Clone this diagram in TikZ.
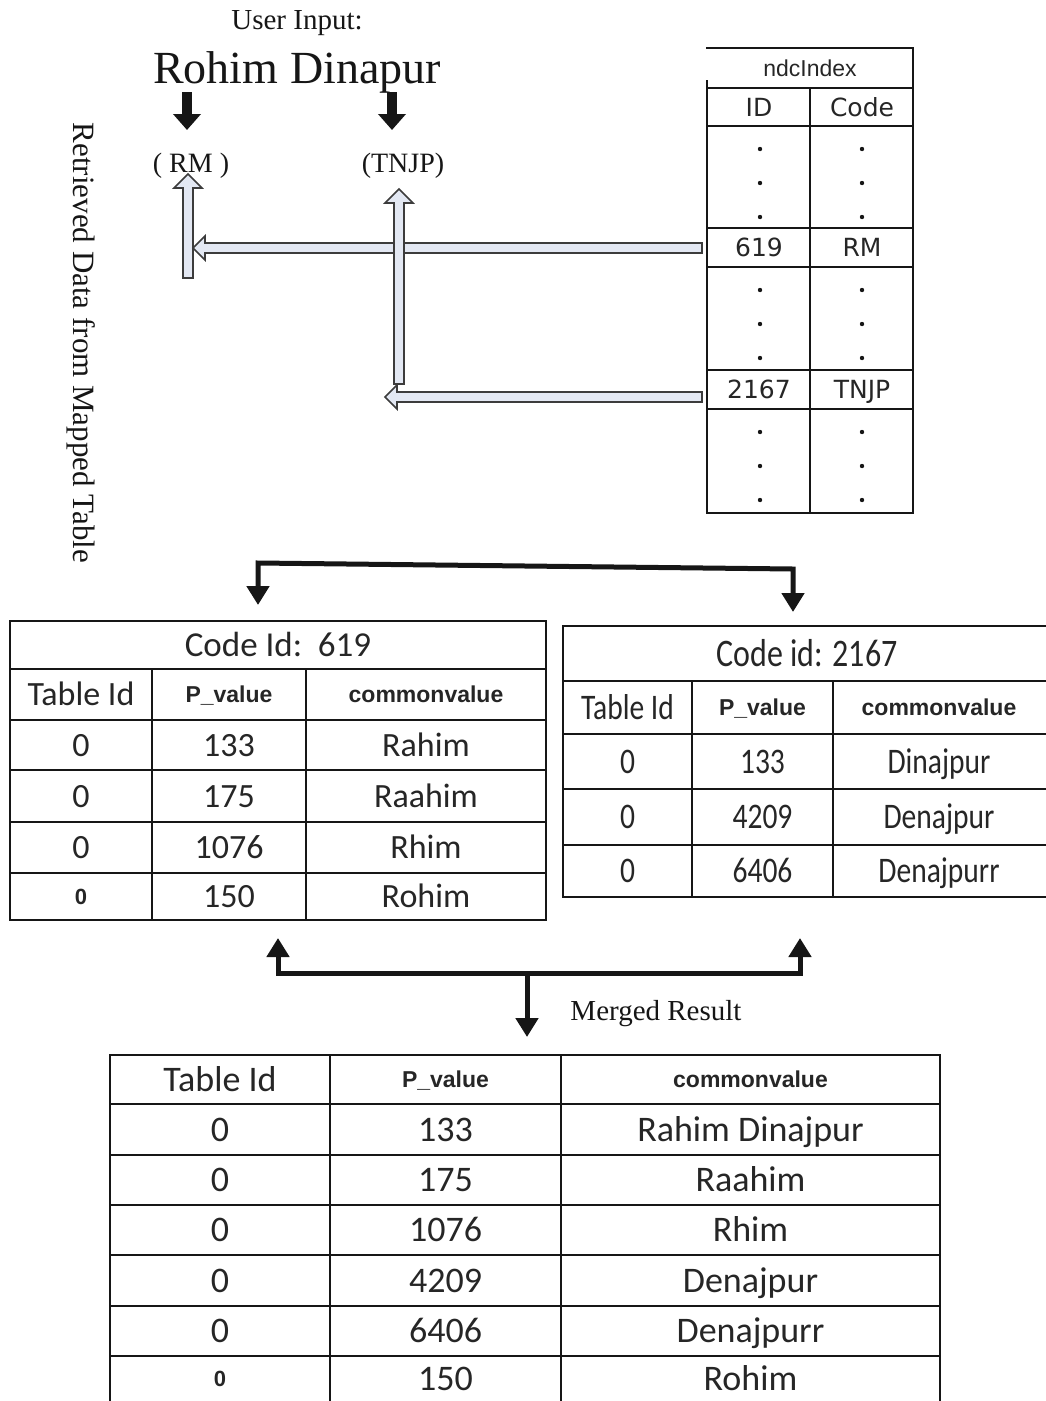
\documentclass[tikz,border=0pt]{standalone}
\usepackage{fontspec}
\setmainfont{Liberation Serif}
\newfontfamily\fcal{Carlito}
\newfontfamily\fcalnarrow[FakeStretch=0.82]{Carlito}
\newfontfamily\farial{Liberation Sans}
\newfontfamily\fdeja{DejaVu Sans}
\usetikzlibrary{arrows.meta,calc}
\definecolor{ink}{HTML}{161616}
\definecolor{celltext}{HTML}{262626}
\definecolor{blkfill}{HTML}{E3E8F3}
\definecolor{blkedge}{HTML}{3C3C3C}
\newcommand{\pxfont}[1]{\fontsize{#1}{#1}\selectfont}
% hollow block arrows: #1 tail, #2 tip
\newcommand{\vblk}[2]{\filldraw[blockarrow] ($(#1)+(-5,0)$) -- ($(#2)+(-5,14)$) -- ($(#2)+(-14,14)$) -- (#2) -- ($(#2)+(14,14)$) -- ($(#2)+(5,14)$) -- ($(#1)+(5,0)$) -- cycle;}
\newcommand{\hblk}[2]{\filldraw[blockarrow] ($(#1)+(0,-5)$) -- ($(#2)+(12,-5)$) -- ($(#2)+(12,-12)$) -- (#2) -- ($(#2)+(12,12)$) -- ($(#2)+(12,5)$) -- ($(#1)+(0,5)$) -- cycle;}
\tikzset{
  tabrule/.style={draw=ink,line width=2.4pt,line cap=rect},
  blockarrow/.style={fill=blkfill,draw=blkedge,line width=1.6pt,line join=miter},
  fatarrow/.style={draw=ink,line width=10pt,-{Triangle[width=27pt,length=16pt]}},
  bracket/.style={draw=ink,line width=5pt,line join=miter,>={Triangle[width=22pt,length=19pt]}},
  serifnote/.style={inner sep=0pt,text=ink,anchor=base},
  cell/.style={inner sep=0pt,text=celltext,text depth=0pt},
  calA/.style={cell,font=\fcal\pxfont{34},text height=22pt},
  calB/.style={cell,font=\fcalnarrow\pxfont{36},text height=23pt},
  calM/.style={cell,font=\fcal\pxfont{36},text height=23pt},
  hdr/.style={cell,font=\farial\bfseries\pxfont{23},text height=16.5pt},
  zsmall/.style={cell,font=\farial\bfseries\pxfont{22},text height=15.8pt},
  ndccell/.style={cell,font=\fdeja\pxfont{25},text height=18.2pt},
  ndctitle/.style={cell,font=\farial\pxfont{23},text height=16.5pt}
}
\begin{document}
\begin{tikzpicture}[x=1pt,y=-1pt]
  \useasboundingbox (0,0) rectangle (1045,1401);

  % user input and codes
  \node[serifnote,font=\pxfont{29}] (userlbl) at (297,29.5) {User Input:};
  \node[serifnote,font=\pxfont{46}] (userword) at (297,83) {Rohim Dinapur};
  \node[serifnote,font=\pxfont{28}] (rmcode) at (191,172) {( RM )};
  \node[serifnote,font=\pxfont{28}] (tnjpcode) at (403,172) {(TNJP)};
  \node[serifnote,font=\pxfont{31},rotate=-90] (sidelbl) at (73,343) {Retrieved Data from Mapped Table};

  \coordinate (rmfrom) at (187,92);  \coordinate (rmto) at (187,130);
  \coordinate (tnfrom) at (392,92);  \coordinate (tnto) at (392,130);
  \draw[fatarrow] (rmfrom) -- (rmto);
  \draw[fatarrow] (tnfrom) -- (tnto);

  % ndcIndex table
  \foreach \y in {48,88,126,228,267,370,409,513}{\draw[tabrule] (707,\y) -- (913,\y);}
  \draw[tabrule] (707,81) -- (707,513);
  \draw[tabrule] (913,48) -- (913,513);
  \draw[tabrule] (810,88) -- (810,513);
  \node[ndctitle] (ndc-title) at (810,68) {ndcIndex};
  \node[ndccell] (ndc-id) at (759,107) {ID};
  \node[ndccell] (ndc-code) at (862,107) {Code};
  \node[ndccell] (ndc-619) at (759,247.5) {619};
  \node[ndccell] (ndc-rm) at (862,247.5) {RM};
  \node[ndccell] (ndc-2167) at (759,389.5) {2167};
  \node[ndccell] (ndc-tnjp) at (862,389.5) {TNJP};
  \foreach \t in {126,267,409}{\foreach \d in {23,57,91}{
    \fill[ink] (760,\t+\d) circle (2.2pt);
    \fill[ink] (862,\t+\d) circle (2.2pt);}}

  % lookups back to the codes
  \coordinate (rmfoot) at (188,278);   \coordinate (rmhead) at (188,174);
  \coordinate (row619) at (702,248);   \coordinate (rmjoin) at (193,248);
  \coordinate (tnfoot) at (399,384);   \coordinate (tnhead) at (399,189);
  \coordinate (row2167) at (702,397);  \coordinate (tnjoin) at (385,397);
  \vblk{rmfoot}{rmhead}
  \hblk{row619}{rmjoin}
  \vblk{tnfoot}{tnhead}
  \hblk{row2167}{tnjoin}

  % split to the two code tables
  \coordinate (splitL) at (258,605);  \coordinate (cornerL) at (258,563);
  \coordinate (cornerR) at (793,569); \coordinate (splitR) at (793,612);
  \draw[bracket,<->] (splitL) -- (cornerL) -- (cornerR) -- (splitR);

  % table for code 619
  \foreach \y in {621,669,720,770,822,873,920}{\draw[tabrule] (10,\y) -- (546,\y);}
  \foreach \x in {10,546}{\draw[tabrule] (\x,621) -- (\x,920);}
  \foreach \x in {152,306}{\draw[tabrule] (\x,669) -- (\x,920);}
  \node[calA,font=\fcal\pxfont{35}] (a-title) at (278,645) {Code Id:\ \ 619};
  \node[calA] (a-hid) at (81,694.5) {Table Id};
  \node[hdr] (a-hp) at (229,694.5) {P\_value};
  \node[hdr] (a-hv) at (426,694.5) {commonvalue};
  \foreach \i/\y/\p/\v in {1/745/133/Rahim,2/796/175/Raahim,3/847.5/1076/Rhim}{
    \node[calA] (a-\i-id) at (81,\y) {0};
    \node[calA] (a-\i-p) at (229,\y) {\p};
    \node[calA] (a-\i-v) at (426,\y) {\v};}
  \node[zsmall] (a-4-id) at (81,896.5) {0};
  \node[calA] (a-4-p) at (229,896.5) {150};
  \node[calA] (a-4-v) at (426,896.5) {Rohim};

  % table for code 2167
  \foreach \y in {626,681,734,789,845,897}{\draw[tabrule] (563,\y) -- (1045,\y);}
  \draw[tabrule] (563,626) -- (563,897);
  \foreach \x in {692,833}{\draw[tabrule] (\x,681) -- (\x,897);}
  \node[calB,font=\fcalnarrow\pxfont{39},text height=25pt] (b-title) at (807,653.5) {Code id: 2167};
  \node[calB] (b-hid) at (627.5,707.5) {Table Id};
  \node[hdr] (b-hp) at (762.5,707.5) {P\_value};
  \node[hdr] (b-hv) at (939,707.5) {commonvalue};
  \foreach \i/\y/\p/\v in {1/761.5/133/Dinajpur,2/817/4209/Denajpur,3/871/6406/Denajpurr}{
    \node[calB] (b-\i-id) at (627.5,\y) {0};
    \node[calB] (b-\i-p) at (762.5,\y) {\p};
    \node[calB] (b-\i-v) at (939,\y) {\v};}

  % merge
  \coordinate (mergeL) at (278,938);  \coordinate (baseL) at (278,973);
  \coordinate (baseR) at (800,973);   \coordinate (mergeR) at (800,938);
  \coordinate (mergeMid) at (527,973); \coordinate (mergeOut) at (527,1037);
  \draw[bracket,<->] (mergeL) -- (baseL) -- (baseR) -- (mergeR);
  \draw[bracket,->] (mergeMid) -- (mergeOut);
  \node[serifnote,font=\pxfont{29}] (mergelbl) at (656,1020) {Merged Result};

  % merged table
  \foreach \y in {1055,1104,1155,1205,1255,1306,1356}{\draw[tabrule] (110,\y) -- (940,\y);}
  \foreach \x in {110,330,561,940}{\draw[tabrule] (\x,1055) -- (\x,1401);}
  \node[calM] (m-hid) at (220,1079.5) {Table Id};
  \node[hdr] (m-hp) at (445.5,1079.5) {P\_value};
  \node[hdr] (m-hv) at (750.5,1079.5) {commonvalue};
  \foreach \i/\y/\p/\v in {1/1129.5/133/Rahim Dinajpur,2/1180/175/Raahim,3/1230/1076/Rhim,4/1280.5/4209/Denajpur,5/1331/6406/Denajpurr}{
    \node[calM] (m-\i-id) at (220,\y) {0};
    \node[calM] (m-\i-p) at (445.5,\y) {\p};
    \node[calM] (m-\i-v) at (750.5,\y) {\v};}
  \node[zsmall] (m-6-id) at (220,1378.5) {0};
  \node[calM] (m-6-p) at (445.5,1378.5) {150};
  \node[calM] (m-6-v) at (750.5,1378.5) {Rohim};
\end{tikzpicture}
\end{document}
